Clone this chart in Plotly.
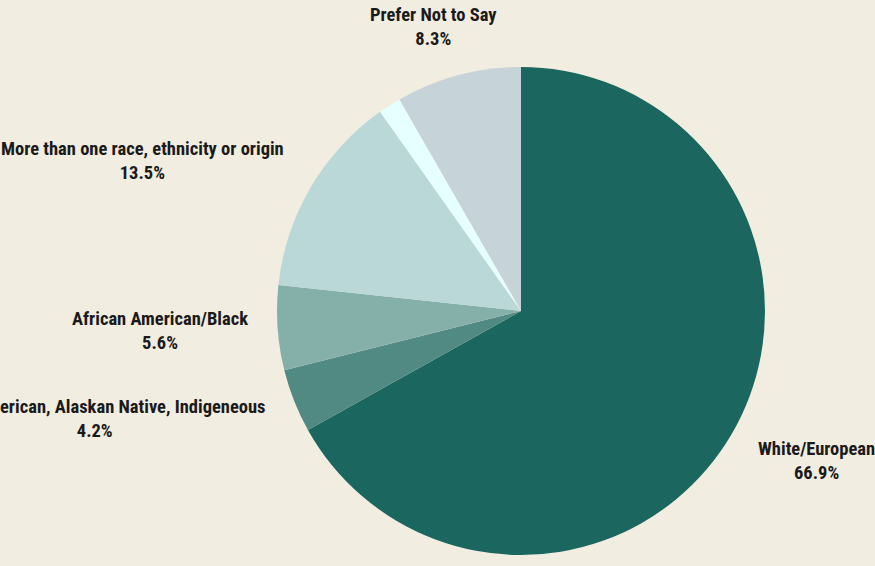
import math
import plotly.graph_objects as go

labels = ["White/European", "Native American, Alaskan Native, Indigeneous", "African American/Black",
          "More than one race, ethnicity or origin", "Asian/Pacific Islander", "Prefer Not to Say"]
values = [66.9, 4.2, 5.6, 13.5, 1.5, 8.3]
show_label = [True, True, True, True, False, True]
colors = ["#1b675f", "#508a83", "#85b0aa", "#b9d8d7", "#e6ffff", "#c6d3d8"]

W, H = 875, 566
cx, cy, r = 521, 311, 244          # pie centre / radius in pixels
LX, LY, LB = 272, 274, 19          # label placement (pixels)
CHAR_W = 7.5                        # rough label char width for centred labels
FONT = dict(family="Roboto Condensed", size=18.5, color="#1a1a1a", weight="bold")

fig = go.Figure(go.Pie(
    labels=labels, values=values, sort=False, direction="clockwise", rotation=0,
    marker=dict(colors=colors, line=dict(width=0)),
    textinfo="none", hoverinfo="skip", showlegend=False,
    domain=dict(x=[(cx - r) / W, (cx + r) / W], y=[(H - cy - r) / H, (H - cy + r) / H]),
))

total = sum(values)
cum = 0.0
for lab, v, show in zip(labels, values, show_label):
    mid = (cum + v / 2) / total * 2 * math.pi
    cum += v
    if not show:
        continue
    vx, vy = math.sin(mid), -math.cos(mid)
    m = max(abs(vx), abs(vy))
    px = cx + LX * vx
    py = cy + LY * vy + LB * vy / m
    if abs(vx) >= abs(vy):
        xanchor = "right" if vx < 0 else "left"
        xshift = 0
    else:
        xanchor = "center"
        xshift = len(lab) * CHAR_W / 2 * vx / m
    fig.add_annotation(
        x=px / W, y=1 - py / H, xref="paper", yref="paper",
        xanchor=xanchor, yanchor="middle", xshift=xshift, align="center",
        text=f"{lab}<br>{v:.1f}%", showarrow=False, font=FONT,
    )

fig.update_layout(width=W, height=H, margin=dict(l=0, r=0, t=0, b=0),
                  paper_bgcolor="#f2ede1", plot_bgcolor="#f2ede1")
fig.write_html("out.html")
